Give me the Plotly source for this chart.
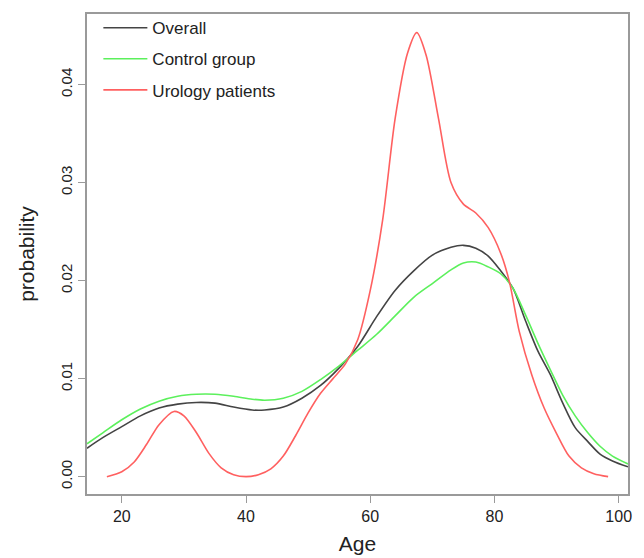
import plotly.graph_objects as go

# Overall
age_overall = [14.4, 17, 20, 23, 26, 29, 32, 35, 38, 41, 43, 46, 49, 52, 55, 58, 61, 64, 67, 70, 73, 75, 77, 79, 81, 83, 85, 87, 89, 91, 93, 95, 97, 99, 101.5]
dens_overall = [0.0029, 0.0040, 0.0051, 0.0062, 0.0070, 0.0074, 0.00757, 0.0075, 0.0071, 0.0068, 0.0068, 0.0071, 0.0080, 0.0093, 0.0111, 0.0133, 0.0163, 0.0190, 0.0210, 0.0226, 0.0234, 0.0236, 0.0233, 0.0225, 0.0210, 0.0192, 0.0159, 0.0128, 0.0104, 0.0075, 0.0050, 0.0036, 0.0023, 0.0016, 0.0010]

# Control group
age_control = [14.4, 17, 20, 23, 26, 29, 32, 35, 38, 41, 43, 46, 49, 52, 55, 58, 61, 64, 67, 70, 73, 75, 77, 79, 81, 83, 85, 87, 89, 91, 93, 95, 97, 99, 101.5]
dens_control = [0.00336, 0.0045, 0.0058, 0.0069, 0.0077, 0.0082, 0.0084, 0.0084, 0.0082, 0.0079, 0.0078, 0.0080, 0.0087, 0.0099, 0.0113, 0.0129, 0.0145, 0.0164, 0.0183, 0.0197, 0.0211, 0.0218, 0.0219, 0.0214, 0.0207, 0.0192, 0.0165, 0.0136, 0.0109, 0.0083, 0.0062, 0.0045, 0.0031, 0.0021, 0.0013]

# Urology patients
age_urology = [17.6, 20, 22, 24, 26, 28.4, 30, 32, 34, 36, 38, 40, 42, 44, 46, 48, 50, 52, 54, 56, 58, 60, 62, 64, 66, 67.5, 69, 71, 73, 75, 77, 79, 81, 82.4, 84, 86, 88, 90, 92, 94, 96, 98.3]
dens_urology = [0.0000, 0.0005, 0.0015, 0.0033, 0.0053, 0.00665, 0.0062, 0.0045, 0.0024, 0.0009, 0.0002, 0.0000, 0.0002, 0.0008, 0.0021, 0.0042, 0.0065, 0.0085, 0.0100, 0.0115, 0.0140, 0.0190, 0.0262, 0.0365, 0.0432, 0.0453, 0.0430, 0.0365, 0.0300, 0.0278, 0.0269, 0.0254, 0.0228, 0.0199, 0.0148, 0.0104, 0.0070, 0.0044, 0.0021, 0.0009, 0.0003, 0.0000]

x_ticks = [20, 40, 60, 80, 100]
y_ticks = [0.00, 0.01, 0.02, 0.03, 0.04]
y_tick_labels = ["0.00", "0.01", "0.02", "0.03", "0.04"]

fig = go.Figure()
series = [
    ("Overall", age_overall, dens_overall, "#444444"),
    ("Control group", age_control, dens_control, "#5cf05c"),
    ("Urology patients", age_urology, dens_urology, "#ff6060"),
]
for i, (name, xs, ys, col) in enumerate(series):
    fig.add_trace(go.Scatter(
        x=xs, y=ys, mode="lines", name=name,
        line=dict(color=col, width=1.6, shape="spline", smoothing=0.8),
        legendgroup=f"g{i}",
    ))

axis_common = dict(
    showgrid=False, zeroline=False, showline=True, mirror=True,
    linecolor="#9a9a9a", linewidth=1.5,
    ticks="outside", ticklen=7, tickcolor="#9a9a9a", tickwidth=1.2,
)

# page body has an 8px default margin, so the figure is offset by (8, 8)
fig.update_layout(
    width=644, height=558,
    margin=dict(l=79, r=24, t=2, b=72),
    paper_bgcolor="white", plot_bgcolor="white",
    font=dict(family="Arial", color="#222222"),
    showlegend=True,
    legend=dict(
        x=0.021, y=1.008, xanchor="left", yanchor="top",
        bgcolor="rgba(0,0,0,0)", borderwidth=0,
        font=dict(family="Arial", size=17, color="#222222"),
        traceorder="grouped", tracegroupgap=6, itemwidth=44,
    ),
    xaxis=dict(
        range=[14.4, 101.5], tickvals=x_ticks,
        tickfont=dict(family="Arial", size=16, color="#222222"),
        title=dict(text="Age", font=dict(family="Arial", size=21, color="#222222"), standoff=12),
        **axis_common,
    ),
    yaxis=dict(
        range=[-0.00177, 0.0472], tickvals=y_ticks, ticktext=y_tick_labels,
        tickangle=-90,
        tickfont=dict(family="Arial", size=15, color="#222222"),
        title=dict(text="probability", font=dict(family="Arial", size=21, color="#222222"), standoff=18),
        **axis_common,
    ),
)

fig.write_html("out.html")
